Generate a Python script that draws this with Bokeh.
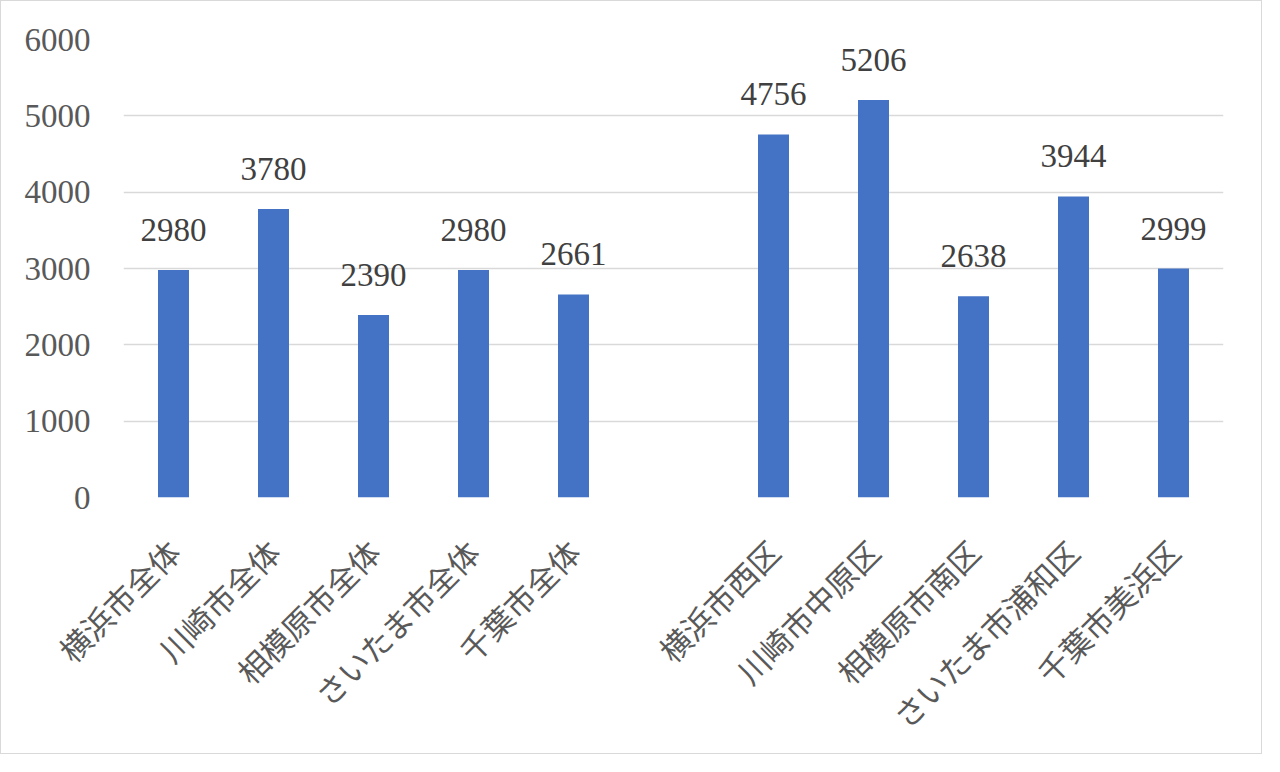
import math
from bokeh.plotting import figure
from bokeh.models import ColumnDataSource, FactorRange, Range1d, FixedTicker
from bokeh.core.properties import value
from bokeh.embed import file_html
from bokeh.resources import INLINE

# ---- data ----
cities_all = ["横浜市全体", "川崎市全体", "相模原市全体", "さいたま市全体", "千葉市全体"]
values_all = [2980, 3780, 2390, 2980, 2661]
wards = ["横浜市西区", "川崎市中原区", "相模原市南区", "さいたま市浦和区", "千葉市美浜区"]
values_wards = [4756, 5206, 2638, 3944, 2999]
gap_label = " "
y_ticks = [0, 1000, 2000, 3000, 4000, 5000, 6000]

categories = cities_all + [gap_label] + wards
values = values_all + [float("nan")] + values_wards
value_text = [str(v) for v in values_all] + [""] + [str(v) for v in values_wards]

src = ColumnDataSource(dict(x=categories, top=values, vt=value_text))

W, H = 1262, 754
p = figure(width=W, height=H, x_range=FactorRange(*categories, range_padding=0),
           y_range=Range1d(0, 6000), output_backend="svg", toolbar_location=None,
           min_border_left=122, min_border_right=40, min_border_top=38, min_border_bottom=258)
p.styles = {"border": "1px solid #d9d9d9"}
p.outline_line_color = None
p.background_fill_color = "white"
p.border_fill_color = "white"

p.vbar(x="x", top="top", width=0.31, source=src, fill_color="#4472C4", line_color=None)

p.text(x="x", y="top", text="vt", source=src, y_offset=-40, text_align="center",
       text_baseline="alphabetic", text_font=value("Liberation Serif"),
       text_font_size="33px", text_color="#404040")

xa = p.xaxis[0]
xa.axis_line_color = None
xa.major_tick_line_color = None
xa.minor_tick_line_color = None
xa.major_tick_out = 0
xa.major_tick_in = 0
xa.major_label_orientation = math.pi / 4
xa.major_label_standoff = 48
xa.major_label_text_font = "Noto Sans CJK JP"
xa.major_label_text_font_size = "31px"
xa.major_label_text_color = "#595959"

p.xgrid.grid_line_color = None
p.ygrid.ticker = FixedTicker(ticks=y_ticks)
p.ygrid.grid_line_color = "#d9d9d9"
p.ygrid.grid_line_width = 1.6

ya = p.yaxis[0]
ya.ticker = FixedTicker(ticks=y_ticks)
ya.axis_line_color = None
ya.major_tick_line_color = None
ya.minor_tick_line_color = None
ya.major_tick_out = 0
ya.major_tick_in = 0
ya.major_label_standoff = 33
ya.major_label_text_font = "Liberation Serif"
ya.major_label_text_font_size = "33px"
ya.major_label_text_color = "#595959"

open("out.html", "w").write(file_html(p, INLINE))
